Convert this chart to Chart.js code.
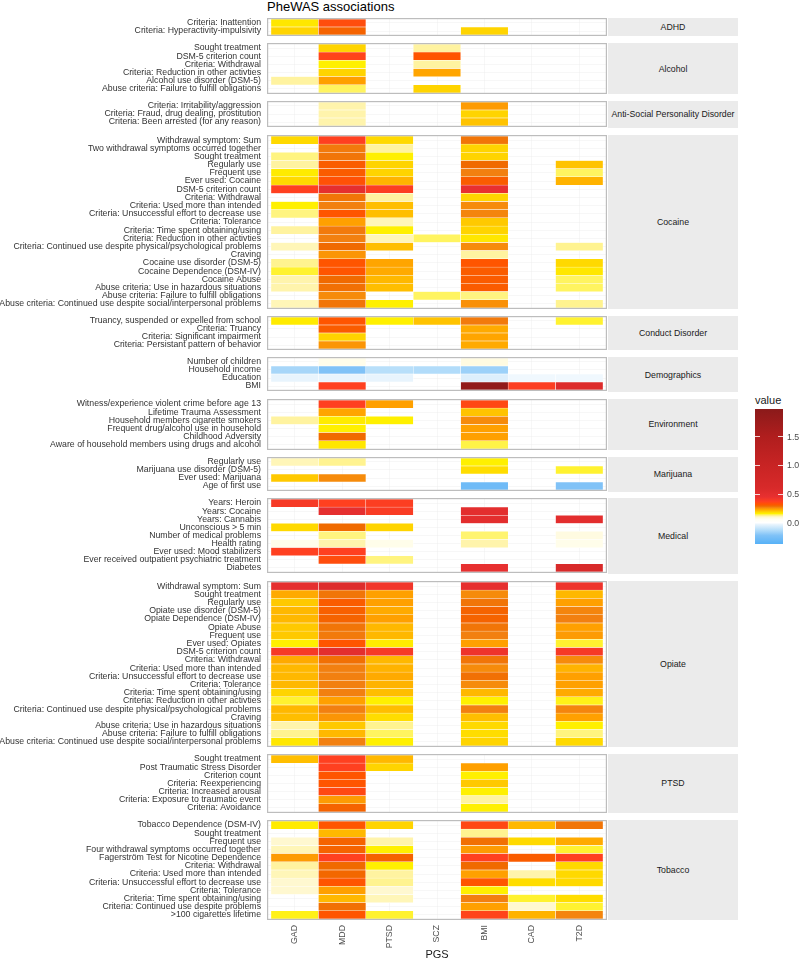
<!DOCTYPE html>
<html>
<head>
<meta charset="utf-8">
<title>PheWAS associations</title>
<script src="https://cdn.jsdelivr.net/npm/chart.js@4.4.1/dist/chart.umd.min.js"></script>
<style>
  html, body { margin: 0; padding: 0; background: #fff; overflow: hidden; }
  #page { position: relative; width: 800px; height: 960px; font-family: 'Liberation Sans', Arial, sans-serif; }
  #title { position: absolute; left: 267px; top: -1px; font-size: 13px; line-height: 15px; color: #000; white-space: nowrap; }
  .strip { position: absolute; background: #EBEBEB; color: #1A1A1A; font-size: 8.75px; display: flex; align-items: center; justify-content: center; white-space: nowrap; }
  .facet { position: absolute; left: 0; }
  #legendTitle { position: absolute; left: 755px; top: 393px; font-size: 11px; line-height: 14px; color: #1A1A1A; }
  #legendBar { position: absolute; left: 755px; top: 409px; width: 28px; height: 135px; }
  .ltick { position: absolute; width: 5px; height: 1px; background: rgba(255,255,255,0.8); }
  .llabel { position: absolute; left: 787px; font-size: 8.8px; line-height: 10px; color: #4D4D4D; }
</style>
</head>
<body>
<div id="page">
  <div id="title">PheWAS associations</div>
  <div id="legendTitle">value</div>
  <div id="legendBar"></div>
</div>
<script>
// ---- data ----
const _ = null;
const pgs = ['GAD', 'MDD', 'PTSD', 'SCZ', 'BMI', 'CAD', 'T2D'];

const adhdLabels = ['Criteria: Inattention', 'Criteria: Hyperactivity-impulsivity'];
const adhdValues = [
    [0.17, 0.34, _, _, _, _, _],
    [0.19, 0.30, _, _, 0.19, _, _]
];

const alcoholLabels = ['Sought treatment', 'DSM-5 criterion count', 'Criteria: Withdrawal',
    'Criteria: Reduction in other activties', 'Alcohol use disorder (DSM-5)',
    'Abuse criteria: Failure to fulfill obligations'];
const alcoholValues = [
    [_, 0.19, _, 0.12, _, _, _],
    [_, 0.36, _, 0.32, _, _, _],
    [_, 0.16, _, 0.12, _, _, _],
    [_, 0.19, _, 0.235, _, _, _],
    [0.12, 0.24, _, _, _, _, _],
    [_, 0.14, _, 0.19, _, _, _]
];

const aspdLabels = ['Criteria: Irritability/aggression', 'Criteria: Fraud, drug dealing, prostitution',
    'Criteria: Been arrested (for any reason)'];
const aspdValues = [
    [_, 0.115, _, _, 0.245, _, _],
    [_, 0.115, _, _, 0.19, _, _],
    [_, 0.115, _, _, 0.205, _, _]
];

const cocaineLabels = ['Withdrawal symptom: Sum', 'Two withdrawal symptoms occurred together', 'Sought treatment',
    'Regularly use', 'Frequent use', 'Ever used: Cocaine', 'DSM-5 criterion count', 'Criteria: Withdrawal',
    'Criteria: Used more than intended', 'Criteria: Unsuccessful effort to decrease use', 'Criteria: Tolerance',
    'Criteria: Time spent obtaining/using', 'Criteria: Reduction in other activties',
    'Criteria: Continued use despite physical/psychological problems', 'Craving', 'Cocaine use disorder (DSM-5)',
    'Cocaine Dependence (DSM-IV)', 'Cocaine Abuse', 'Abuse criteria: Use in hazardous situations',
    'Abuse criteria: Failure to fulfill obligations',
    'Abuse criteria: Continued use despite social/interpersonal problems'];
const cocaineValues = [
    [0.185, 0.37, 0.185, _, 0.28, _, _],
    [_, 0.275, 0.12, _, 0.19, _, _],
    [0.13, 0.28, 0.16, _, 0.19, _, _],
    [0.12, 0.31, 0.19, _, 0.29, _, 0.205],
    [0.165, 0.31, 0.19, _, 0.27, _, 0.14],
    [0.185, 0.33, 0.22, _, 0.31, _, 0.22],
    [0.37, 0.48, 0.38, _, 0.45, _, _],
    [_, 0.28, 0.12, _, 0.19, _, _],
    [0.16, 0.27, 0.21, _, 0.26, _, _],
    [0.13, 0.32, 0.21, _, 0.265, _, _],
    [_, 0.24, 0.11, _, 0.20, _, _],
    [0.12, 0.275, 0.16, _, 0.19, _, _],
    [_, 0.27, 0.11, 0.14, 0.17, _, _],
    [0.11, 0.29, 0.21, _, 0.26, _, 0.125],
    [_, 0.25, _, _, 0.12, _, _],
    [0.125, 0.32, 0.235, _, 0.32, _, 0.185],
    [0.15, 0.32, 0.23, _, 0.31, _, 0.17],
    [0.115, 0.29, 0.215, _, 0.31, _, 0.14],
    [0.115, 0.285, 0.21, _, 0.31, _, 0.14],
    [_, 0.26, _, 0.14, 0.13, _, _],
    [0.11, 0.28, 0.16, _, 0.255, _, 0.125]
];

const conductLabels = ['Truancy, suspended or expelled from school', 'Criteria: Truancy',
    'Criteria: Significant impairment', 'Criteria: Persistant pattern of behavior'];
const conductValues = [
    [0.165, 0.32, 0.16, 0.205, 0.275, _, 0.15],
    [_, 0.31, _, _, 0.23, _, _],
    [_, 0.19, _, _, 0.235, _, _],
    [_, 0.25, _, _, 0.23, _, _]
];

const demoLabels = ['Number of children', 'Household income', 'Education', 'BMI'];
const demoValues = [
    [_, 0.07, _, _, 0.08, _, _],
    [-0.15, -0.22, -0.12, -0.13, -0.17, _, _],
    [-0.03, -0.03, -0.03, _, -0.05, -0.02, -0.02],
    [_, 0.37, _, _, 1.9, 0.38, 0.55]
];

const envLabels = ['Witness/experience violent crime before age 13', 'Lifetime Trauma Assessment',
    'Household members cigarette smokers', 'Frequent drug/alcohol use in household', 'Childhood Adversity',
    'Aware of household members using drugs and alcohol'];
const envValues = [
    [_, 0.37, 0.24, _, 0.35, _, _],
    [_, 0.235, _, _, 0.205, _, _],
    [0.12, 0.165, 0.16, _, 0.26, _, _],
    [_, 0.16, _, _, 0.24, _, _],
    [_, 0.29, _, _, 0.24, _, _],
    [_, 0.17, _, _, 0.145, _, _]
];

const marijuanaLabels = ['Regularly use', 'Marijuana use disorder (DSM-5)', 'Ever used: Marijuana', 'Age of first use'];
const marijuanaValues = [
    [0.11, 0.125, _, _, 0.16, _, _],
    [_, _, _, _, 0.18, _, 0.15],
    [0.20, 0.26, _, _, _, _, _],
    [_, _, _, _, -0.28, _, -0.22]
];

const medicalLabels = ['Years: Heroin', 'Years: Cocaine', 'Years: Cannabis', 'Unconscious > 5 min',
    'Number of medical problems', 'Health rating', 'Ever used: Mood stabilizers',
    'Ever received outpatient psychiatric treatment', 'Diabetes'];
const medicalValues = [
    [0.40, 0.37, 0.38, _, _, _, _],
    [_, 0.48, 0.39, _, 0.50, _, _],
    [_, _, _, _, 0.50, _, 0.50],
    [0.185, 0.29, 0.19, _, _, _, _],
    [_, 0.13, _, _, 0.135, _, 0.08],
    [0.07, 0.115, 0.07, _, 0.115, _, 0.07],
    [0.37, 0.37, _, _, _, _, _],
    [_, 0.34, 0.13, _, _, _, _],
    [_, _, _, _, 0.46, _, 0.60]
];

const opiateLabels = ['Withdrawal symptom: Sum', 'Sought treatment', 'Regularly use', 'Opiate use disorder (DSM-5)',
    'Opiate Dependence (DSM-IV)', 'Opiate Abuse', 'Frequent use', 'Ever used: Opiates', 'DSM-5 criterion count',
    'Criteria: Withdrawal', 'Criteria: Used more than intended', 'Criteria: Unsuccessful effort to decrease use',
    'Criteria: Tolerance', 'Criteria: Time spent obtaining/using', 'Criteria: Reduction in other activties',
    'Criteria: Continued use despite physical/psychological problems', 'Craving',
    'Abuse criteria: Use in hazardous situations', 'Abuse criteria: Failure to fulfill obligations',
    'Abuse criteria: Continued use despite social/interpersonal problems'];
const opiateValues = [
    [0.48, 0.55, 0.42, _, 0.47, _, 0.43],
    [0.23, 0.28, 0.24, _, 0.26, _, 0.215],
    [0.20, 0.31, 0.24, _, 0.28, _, 0.24],
    [0.215, 0.305, 0.23, _, 0.30, _, 0.265],
    [0.215, 0.30, 0.24, _, 0.30, _, 0.27],
    [0.20, 0.28, 0.215, _, 0.28, _, 0.24],
    [0.20, 0.275, 0.215, _, 0.27, _, 0.245],
    [0.16, 0.32, 0.165, _, 0.24, _, 0.15],
    [0.40, 0.50, 0.40, _, 0.43, _, 0.40],
    [0.23, 0.285, 0.215, _, 0.28, _, 0.26],
    [0.215, 0.27, 0.22, _, 0.26, _, 0.22],
    [0.215, 0.27, 0.23, _, 0.285, _, 0.24],
    [0.215, 0.27, 0.22, _, 0.26, _, 0.24],
    [0.19, 0.27, 0.21, _, 0.215, _, 0.23],
    [0.15, 0.24, 0.16, _, 0.16, _, 0.155],
    [0.215, 0.27, 0.21, _, 0.27, _, 0.265],
    [0.21, 0.25, 0.18, _, 0.21, _, 0.24],
    [0.115, 0.20, 0.125, _, 0.185, _, 0.16],
    [0.125, 0.215, 0.14, _, 0.18, _, 0.13],
    [0.17, 0.27, 0.16, _, 0.19, _, 0.185]
];

const ptsdLabels = ['Sought treatment', 'Post Traumatic Stress Disorder', 'Criterion count',
    'Criteria: Reexperiencing', 'Criteria: Increased arousal', 'Criteria: Exposure to traumatic event',
    'Criteria: Avoidance'];
const ptsdValues = [
    [0.21, 0.37, 0.215, _, _, _, _],
    [_, 0.37, 0.19, _, 0.24, _, _],
    [_, 0.32, _, _, 0.16, _, _],
    [_, 0.32, _, _, 0.20, _, _],
    [_, 0.35, _, _, 0.16, _, _],
    [_, 0.245, _, _, 0.12, _, _],
    [_, 0.30, _, _, 0.16, _, _]
];

const tobaccoLabels = ['Tobacco Dependence (DSM-IV)', 'Sought treatment', 'Frequent use',
    'Four withdrawal symptoms occurred together', 'Fagerström Test for Nicotine Dependence', 'Criteria: Withdrawal',
    'Criteria: Used more than intended', 'Criteria: Unsuccessful effort to decrease use', 'Criteria: Tolerance',
    'Criteria: Time spent obtaining/using', 'Criteria: Continued use despite problems', '>100 cigarettes lifetime'];
const tobaccoValues = [
    [0.165, 0.32, 0.19, _, 0.35, 0.215, 0.28],
    [_, 0.215, _, _, 0.125, _, _],
    [0.10, 0.30, 0.115, _, 0.285, 0.185, 0.23],
    [0.11, 0.30, 0.16, _, 0.245, _, 0.15],
    [0.245, 0.37, 0.30, _, 0.37, 0.31, 0.37],
    [0.12, 0.29, 0.16, _, 0.29, _, 0.185],
    [0.11, 0.295, 0.12, _, 0.24, 0.115, 0.185],
    [0.10, 0.32, 0.125, _, 0.32, 0.18, 0.185],
    [0.10, 0.24, 0.10, _, 0.16, _, _],
    [_, 0.215, 0.11, _, 0.27, 0.15, 0.18],
    [_, 0.285, _, _, 0.24, 0.10, 0.15],
    [0.155, 0.32, 0.15, _, 0.36, 0.22, 0.265]
];

const legendBreaks = [0, 0.5, 1, 1.5];
const legendRange = [-0.37, 1.98];

// ---- colour scale (value -> fill) ----
const colorStops = [
    [-0.37, '#56B1F7'], [-0.22, '#80C2F7'], [-0.12, '#B8DFFA'], [-0.03, '#E8F4FD'],
    [0.00, '#FFFFFF'], [0.06, '#FFFEF2'], [0.10, '#FFF8D0'], [0.12, '#FFF3A0'],
    [0.14, '#FFF460'], [0.16, '#FFF000'], [0.19, '#FFD400'], [0.215, '#FFB800'],
    [0.24, '#FFA000'], [0.27, '#F28010'], [0.29, '#F06A00'], [0.32, '#FF5500'],
    [0.37, '#FF4020'], [0.45, '#E83030'], [0.60, '#D82A2A'], [1.00, '#C82424'],
    [1.50, '#B01E1E'], [1.98, '#8B1A1A']
];

function hexToRgb(h) {
    const n = parseInt(h.slice(1), 16);
    return [n >> 16, (n >> 8) & 255, n & 255];
}

function fillColor(v) {
    if (v <= colorStops[0][0]) return colorStops[0][1];
    for (let i = 1; i < colorStops.length; i++) {
        if (v <= colorStops[i][0]) {
            const [v0, c0] = colorStops[i - 1];
            const [v1, c1] = colorStops[i];
            const t = (v - v0) / (v1 - v0);
            const a = hexToRgb(c0), b = hexToRgb(c1);
            return `rgb(${a.map((x, k) => Math.round(x + (b[k] - x) * t)).join(',')})`;
        }
    }
    return colorStops[colorStops.length - 1][1];
}

// ---- layout ----
const L = { top: 18, rowH: 8.2, pad: 1, gap: 6.8, panelLeft: 267, panelRight: 607, cellPadX: 4,
    stripLeft: 608, stripWidth: 130, xAxisH: 42 };

Chart.defaults.font.family = "'Liberation Sans', Arial, sans-serif";

const panelBorder = {
    id: 'panelBorder',
    afterDraw(chart) {
        const { ctx, chartArea: a } = chart;
        ctx.save();
        ctx.strokeStyle = '#BDBDBD';
        ctx.lineWidth = 1.2;
        ctx.strokeRect(a.left + 0.6, a.top + 0.6, a.right - a.left - 1.2, a.bottom - a.top - 1.2);
        ctx.restore();
    }
};

function makeFacet(name, labels, values, top, isLast) {
    const page = document.getElementById('page');
    const n = labels.length;
    const h = n * L.rowH + 2 * L.pad;
    const padU = L.pad / L.rowH;
    const colW = (L.panelRight - L.panelLeft - 2 * L.cellPadX) / pgs.length;
    const padX = L.cellPadX / colW;

    const cells = [], colors = [];
    values.forEach((row, i) => row.forEach((v, c) => {
        if (v === null) return;
        cells.push({ x: [c - 0.5, c + 0.5], y: i });
        colors.push(fillColor(v));
    }));

    const boxH = 1 + h + (isLast ? L.xAxisH : 1);
    const box = document.createElement('div');
    box.className = 'facet';
    box.style.top = (top - 1) + 'px';
    box.style.width = (L.panelRight + 2) + 'px';
    box.style.height = boxH + 'px';
    const canvas = document.createElement('canvas');
    canvas.width = L.panelRight + 2;
    canvas.height = boxH;
    box.appendChild(canvas);
    page.appendChild(box);

    const strip = document.createElement('div');
    strip.className = 'strip';
    strip.style.left = L.stripLeft + 'px';
    strip.style.top = top + 'px';
    strip.style.width = L.stripWidth + 'px';
    strip.style.height = h + 'px';
    strip.textContent = name;
    page.appendChild(strip);

    new Chart(canvas, {
        type: 'bar',
        data: {
            datasets: [{
                data: cells,
                backgroundColor: colors,
                borderColor: '#FFFFFF',
                borderWidth: 0.5,
                borderSkipped: false,
                categoryPercentage: 1,
                barPercentage: 1,
                grouped: false
            }]
        },
        options: {
            indexAxis: 'y',
            responsive: false, maintainAspectRatio: false, animation: false, events: [],
            layout: { padding: { left: 0, right: 2, top: 1, bottom: isLast ? 0 : 1 } },
            plugins: { legend: { display: false }, tooltip: { enabled: false } },
            scales: {
                x: {
                    type: 'linear', bounds: 'data', offset: false,
                    min: -0.5 - padX, max: pgs.length - 0.5 + padX,
                    afterBuildTicks: a => { a.ticks = pgs.map((p, i) => ({ value: i })); },
                    afterFit: a => { a.height = isLast ? L.xAxisH : 0; a.paddingLeft = 0; a.paddingRight = 0; },
                    grid: { color: '#ECECEC', lineWidth: 0.4, drawTicks: false, offset: false },
                    border: { display: false },
                    ticks: {
                        display: isLast, autoSkip: false, minRotation: 90, maxRotation: 90, padding: 5,
                        color: '#4D4D4D', font: { size: 8.75 }, callback: v => pgs[v]
                    },
                    title: { display: isLast, text: 'PGS', color: '#1A1A1A', font: { size: 11 }, padding: 0 }
                },
                y: {
                    type: 'linear', bounds: 'data', offset: false, reverse: true,
                    min: -0.5 - padU, max: n - 0.5 + padU,
                    afterBuildTicks: a => { a.ticks = labels.map((l, i) => ({ value: i })); },
                    afterFit: a => { a.width = L.panelLeft; a.paddingTop = 0; a.paddingBottom = 0; },
                    grid: { color: '#ECECEC', lineWidth: 0.4, drawTicks: false, offset: false },
                    border: { display: false },
                    ticks: { autoSkip: false, padding: 6, color: '#333333', font: { size: 8.75 }, callback: v => labels[v] }
                }
            }
        },
        plugins: [panelBorder]
    });
    return h;
}

const facetNames = ['ADHD', 'Alcohol', 'Anti-Social Personality Disorder', 'Cocaine', 'Conduct Disorder',
    'Demographics', 'Environment', 'Marijuana', 'Medical', 'Opiate', 'PTSD', 'Tobacco'];
const facetLabels = [adhdLabels, alcoholLabels, aspdLabels, cocaineLabels, conductLabels, demoLabels,
    envLabels, marijuanaLabels, medicalLabels, opiateLabels, ptsdLabels, tobaccoLabels];
const facetValues = [adhdValues, alcoholValues, aspdValues, cocaineValues, conductValues, demoValues,
    envValues, marijuanaValues, medicalValues, opiateValues, ptsdValues, tobaccoValues];

let y = L.top;
facetNames.forEach((name, k) => {
    const h = makeFacet(name, facetLabels[k], facetValues[k], y, k === facetNames.length - 1);
    y += h + L.gap;
});

// ---- legend ----
(function buildLegend() {
    const page = document.getElementById('page');
    const bar = document.getElementById('legendBar');
    const [vmin, vmax] = legendRange;
    const pct = v => ((v - vmin) / (vmax - vmin) * 100).toFixed(2);
    bar.style.background = 'linear-gradient(to top, ' +
        colorStops.map(([v, c]) => `${c} ${pct(v)}%`).join(', ') + ')';
    const barTop = 409, barH = 135, barL = 755, barW = 28;
    legendBreaks.forEach(v => {
        const yy = barTop + (vmax - v) / (vmax - vmin) * barH;
        [barL, barL + barW - 5].forEach(x => {
            const t = document.createElement('div');
            t.className = 'ltick';
            t.style.left = x + 'px';
            t.style.top = (yy - 0.5) + 'px';
            page.appendChild(t);
        });
        const lab = document.createElement('div');
        lab.className = 'llabel';
        lab.style.top = (yy - 5) + 'px';
        lab.textContent = v.toFixed(1);
        page.appendChild(lab);
    });
})();
</script>
</body>
</html>
